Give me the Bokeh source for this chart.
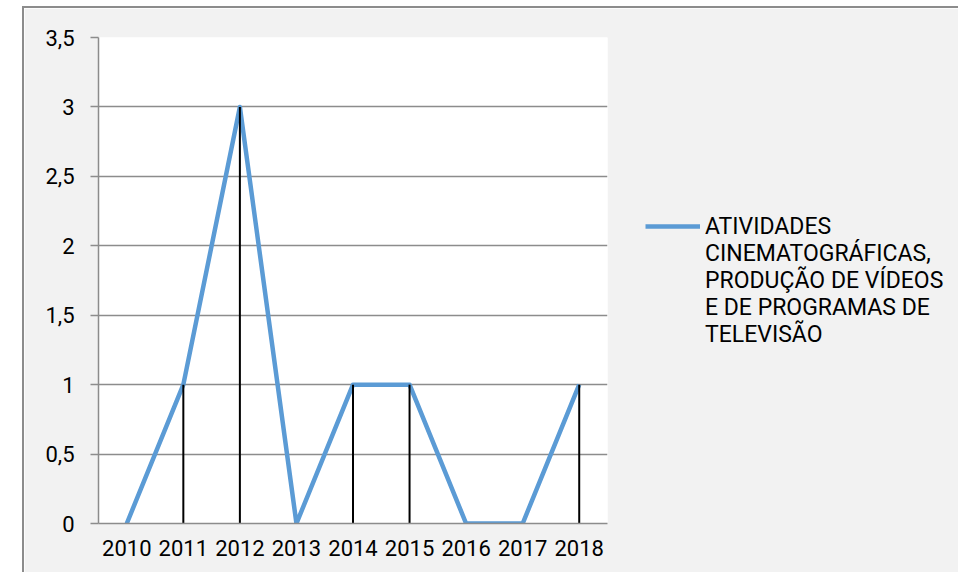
from bokeh.plotting import figure
from bokeh.models import FactorRange, Range1d, FixedTicker, Legend, LegendItem, Spacer
from bokeh.layouts import row, column
from bokeh.embed import file_html
from bokeh.resources import INLINE

years = ["2010", "2011", "2012", "2013", "2014", "2015", "2016", "2017", "2018"]
values = [0, 1, 3, 0, 1, 1, 0, 0, 1]
y_ticks = [0, 0.5, 1, 1.5, 2, 2.5, 3, 3.5]
y_tick_labels = ["0", "0,5", "1", "1,5", "2", "2,5", "3", "3,5"]
series_name_lines = ["ATIVIDADES", "CINEMATOGRÁFICAS,", "PRODUÇÃO DE VÍDEOS",
                     "E DE PROGRAMAS DE", "TELEVISÃO"]

FONT = "Roboto"
GRID = "#8c8c8c"
BLUE = "#5b9bd5"

p = figure(frame_width=507, frame_height=484, x_range=FactorRange(*years, range_padding=0),
           y_range=Range1d(0, 3.5), output_backend="svg", toolbar_location=None,
           min_border_left=74, min_border_top=29, min_border_right=349, min_border_bottom=51)
p.background_fill_color = "white"
p.border_fill_color = "#f2f2f2"
p.outline_line_color = None
p.styles = {"border-top": "2px solid #8c8c8c", "border-left": "2px solid #8c8c8c"}

p.xgrid.visible = False
p.ygrid.grid_line_color = GRID
p.ygrid.grid_line_width = 1.5
p.ygrid.ticker = FixedTicker(ticks=y_ticks)

p.yaxis.ticker = FixedTicker(ticks=y_ticks)
p.yaxis.major_label_overrides = {t: l for t, l in zip(y_ticks, y_tick_labels)}
p.yaxis.axis_line_color = GRID
p.yaxis.axis_line_width = 1.5
p.yaxis.major_tick_line_color = GRID
p.yaxis.major_tick_line_width = 1.5
p.yaxis.major_tick_out = 8
p.yaxis.major_tick_in = 0
p.yaxis.minor_tick_line_color = None
p.yaxis.major_label_standoff = 16

p.xaxis.axis_line_color = GRID
p.xaxis.axis_line_width = 1.5
p.xaxis.major_tick_line_color = None
p.xaxis.minor_tick_line_color = None
p.xaxis.major_label_standoff = 10

for ax in (p.xaxis[0], p.yaxis[0]):
    ax.major_label_text_font = FONT
    ax.major_label_text_font_size = "22px"
    ax.major_label_text_color = "black"

line_r = p.line(x=years, y=values, line_color=BLUE, line_width=4.5, line_join="round")
p.segment(x0=years, y0=[0] * len(values), x1=years, y1=values, line_color="black", line_width=2)
# invisible stand-in used only for the continuation lines of the wrapped legend label
blank_r = p.line(x=[years[0]], y=[values[0]], line_alpha=0)

items = [LegendItem(label=series_name_lines[0], renderers=[line_r])]
items += [LegendItem(label=t, renderers=[blank_r]) for t in series_name_lines[1:]]

legend = Legend(items=items, location="center_left", padding=0, margin=38,
                border_line_color=None, background_fill_alpha=0,
                glyph_width=55, glyph_height=27, label_height=27, spacing=0,
                label_standoff=5, label_text_font=FONT, label_text_font_size="23px",
                label_text_line_height=1.2, label_text_color="black")
p.add_layout(legend, "right")

layout = column(Spacer(width=10, height=6), row(Spacer(width=22, height=10), p))
open("out.html", "w").write(file_html(layout, INLINE))
